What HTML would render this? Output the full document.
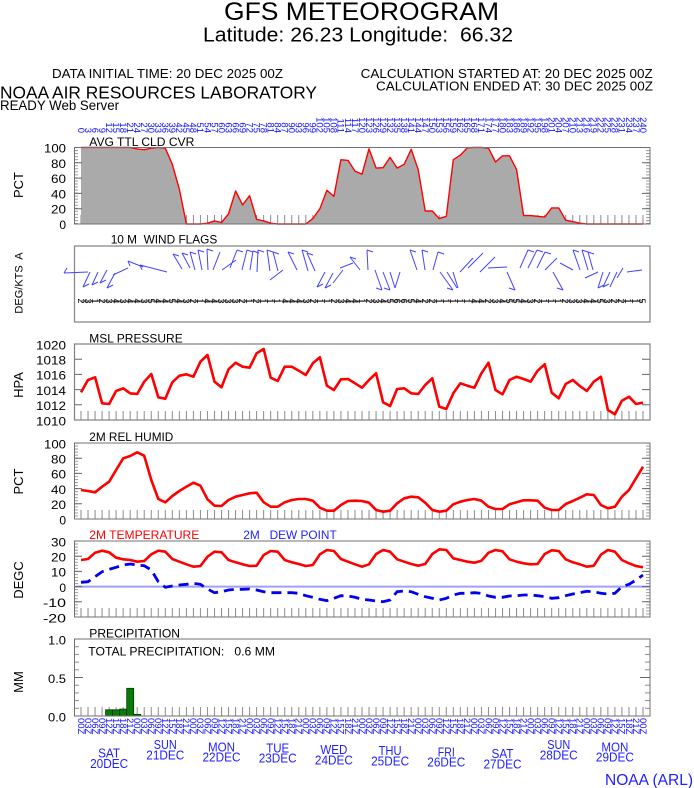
<!DOCTYPE html>
<html><head><meta charset="utf-8">
<style>html,body{margin:0;padding:0;background:#fff;}svg{display:block}</style>
</head><body>
<svg xmlns="http://www.w3.org/2000/svg" width="694" height="788" viewBox="0 0 694 788" font-family="'Liberation Sans', Arial, sans-serif">
<defs>
 <pattern id="vt" x="80.5" y="0" width="7.025" height="20" patternUnits="userSpaceOnUse"><rect x="0" y="0" width="1" height="20" fill="#8a8a8a"/></pattern>
 <pattern id="h3" x="0" y="-0.5" width="20" height="3.04" patternUnits="userSpaceOnUse"><rect width="20" height="1" fill="#9a9a9a"/></pattern>
 <pattern id="h77" x="0" y="-0.5" width="20" height="7.7" patternUnits="userSpaceOnUse"><rect width="20" height="1" fill="#8a8a8a"/></pattern>
</defs>
<rect width="694" height="788" fill="#fff"/>

<!-- Header -->
<text x="224" y="20" font-size="25" textLength="275" lengthAdjust="spacingAndGlyphs">GFS METEOROGRAM</text>
<text x="203" y="41.7" font-size="20" textLength="310" lengthAdjust="spacingAndGlyphs" style="white-space:pre">Latitude: 26.23 Longitude:  66.32</text>
<text x="52" y="78" font-size="13" textLength="231" lengthAdjust="spacingAndGlyphs">DATA INITIAL TIME: 20 DEC 2025 00Z</text>
<text x="360.7" y="78" font-size="13" textLength="292" lengthAdjust="spacingAndGlyphs">CALCULATION STARTED AT: 20 DEC 2025 00Z</text>
<text x="376" y="90.5" font-size="13" textLength="277" lengthAdjust="spacingAndGlyphs">CALCULATION ENDED AT: 30 DEC 2025 00Z</text>
<text x="0" y="98.3" font-size="17.5" textLength="317" lengthAdjust="spacingAndGlyphs">NOAA AIR RESOURCES LABORATORY</text>
<text x="0" y="110" font-size="13.5" textLength="119" lengthAdjust="spacingAndGlyphs">READY Web Server</text>

<!-- Top hour labels -->
<g transform="rotate(90)" font-size="9.5" fill="#1010ff" text-anchor="end">
<text x="133" y="-77.8">0</text><text x="133" y="-84.8">3</text><text x="133" y="-91.9">6</text><text x="133" y="-98.9">9</text><text x="133" y="-105.9">12</text><text x="133" y="-112.9">15</text><text x="133" y="-120.0">18</text><text x="133" y="-127.0">21</text><text x="133" y="-134.0">24</text><text x="133" y="-141.0">27</text><text x="133" y="-148.1">30</text><text x="133" y="-155.1">33</text><text x="133" y="-162.1">36</text><text x="133" y="-169.1">39</text><text x="133" y="-176.2">42</text><text x="133" y="-183.2">45</text><text x="133" y="-190.2">48</text><text x="133" y="-197.2">51</text><text x="133" y="-204.3">54</text><text x="133" y="-211.3">57</text><text x="133" y="-218.3">60</text><text x="133" y="-225.3">63</text><text x="133" y="-232.4">66</text><text x="133" y="-239.4">69</text><text x="133" y="-246.4">72</text><text x="133" y="-253.4">75</text><text x="133" y="-260.5">78</text><text x="133" y="-267.5">81</text><text x="133" y="-274.5">84</text><text x="133" y="-281.5">87</text><text x="133" y="-288.6">90</text><text x="133" y="-295.6">93</text><text x="133" y="-302.6">96</text><text x="133" y="-309.6">99</text><text x="133" y="-316.7">102</text><text x="133" y="-323.7">105</text><text x="133" y="-330.7">108</text><text x="133" y="-337.7">111</text><text x="133" y="-344.8">114</text><text x="133" y="-351.8">117</text><text x="133" y="-358.8">120</text><text x="133" y="-365.8">123</text><text x="133" y="-372.9">126</text><text x="133" y="-379.9">129</text><text x="133" y="-386.9">132</text><text x="133" y="-393.9">135</text><text x="133" y="-401.0">138</text><text x="133" y="-408.0">141</text><text x="133" y="-415.0">144</text><text x="133" y="-422.0">147</text><text x="133" y="-429.1">150</text><text x="133" y="-436.1">153</text><text x="133" y="-443.1">156</text><text x="133" y="-450.1">159</text><text x="133" y="-457.2">162</text><text x="133" y="-464.2">165</text><text x="133" y="-471.2">168</text><text x="133" y="-478.2">171</text><text x="133" y="-485.3">174</text><text x="133" y="-492.3">177</text><text x="133" y="-499.3">180</text><text x="133" y="-506.3">183</text><text x="133" y="-513.4">186</text><text x="133" y="-520.4">189</text><text x="133" y="-527.4">192</text><text x="133" y="-534.4">195</text><text x="133" y="-541.5">198</text><text x="133" y="-548.5">201</text><text x="133" y="-555.5">204</text><text x="133" y="-562.5">207</text><text x="133" y="-569.6">210</text><text x="133" y="-576.6">213</text><text x="133" y="-583.6">216</text><text x="133" y="-590.6">219</text><text x="133" y="-597.7">222</text><text x="133" y="-604.7">225</text><text x="133" y="-611.7">228</text><text x="133" y="-618.7">231</text><text x="133" y="-625.8">234</text><text x="133" y="-632.8">237</text><text x="133" y="-639.8">240</text>
</g>

<!-- ============ CLOUD PANEL ============ -->
<text x="89.3" y="146" font-size="12" textLength="105" lengthAdjust="spacingAndGlyphs">AVG TTL CLD CVR</text>
<rect x="80.5" y="215" width="563.5" height="9" fill="url(#vt)"/>
<g transform="translate(0,147.5)">
 <rect x="74" y="0" width="4" height="76.5" fill="url(#h3)"/>
 <rect x="646" y="0" width="4" height="76.5" fill="url(#h3)"/>
</g>
<polygon fill="#aaaaaa" points="81,224 81.0,147.4 88.0,147.4 95.1,147.4 102.1,147.4 109.1,147.4 116.1,147.4 123.2,147.4 130.2,147.4 137.2,148.9 144.2,149.7 151.3,148.2 158.3,147.4 165.3,148.2 172.3,164.3 179.4,189.5 186.4,224 193.4,224 200.4,224 207.5,223.2 214.5,220.9 221.5,222.5 228.5,214 235.6,191 242.6,204.9 249.6,195.7 256.6,219.4 263.7,220.9 270.7,223.2 277.7,224 284.7,224 291.8,224 298.8,224 305.8,224 312.8,218.6 319.9,208.7 326.9,190.3 333.9,196.4 340.9,159.7 348.0,160.4 355.0,171.1 362.0,174.2 369.0,148.9 376.1,168.1 383.1,167.7 390.1,157.4 397.1,168.1 404.2,164.3 411.2,149.3 418.2,169.6 425.2,211 432.3,211 439.3,218.6 446.3,216.3 453.3,159.7 460.4,155.1 467.4,147.7 474.4,147.4 481.4,147.4 488.5,148.2 495.5,162 502.5,155.8 509.5,155.8 516.6,169.6 523.6,215.6 530.6,215.6 537.6,216.3 544.7,217.1 551.7,207.9 558.7,207.9 565.7,220.2 572.8,221.7 579.8,223.2 586.8,224 593.8,224 600.9,224 607.9,224 614.9,224 621.9,224 629.0,224 636.0,224 643.0,224"/>
<polyline fill="none" stroke="#ff0000" stroke-width="1.4" stroke-linejoin="round" points="81.0,147.4 88.0,147.4 95.1,147.4 102.1,147.4 109.1,147.4 116.1,147.4 123.2,147.4 130.2,147.4 137.2,148.9 144.2,149.7 151.3,148.2 158.3,147.4 165.3,148.2 172.3,164.3 179.4,189.5 186.4,224 193.4,224 200.4,224 207.5,223.2 214.5,220.9 221.5,222.5 228.5,214 235.6,191 242.6,204.9 249.6,195.7 256.6,219.4 263.7,220.9 270.7,223.2 277.7,224 284.7,224 291.8,224 298.8,224 305.8,224 312.8,218.6 319.9,208.7 326.9,190.3 333.9,196.4 340.9,159.7 348.0,160.4 355.0,171.1 362.0,174.2 369.0,148.9 376.1,168.1 383.1,167.7 390.1,157.4 397.1,168.1 404.2,164.3 411.2,149.3 418.2,169.6 425.2,211 432.3,211 439.3,218.6 446.3,216.3 453.3,159.7 460.4,155.1 467.4,147.7 474.4,147.4 481.4,147.4 488.5,148.2 495.5,162 502.5,155.8 509.5,155.8 516.6,169.6 523.6,215.6 530.6,215.6 537.6,216.3 544.7,217.1 551.7,207.9 558.7,207.9 565.7,220.2 572.8,221.7 579.8,223.2 586.8,224 593.8,224 600.9,224 607.9,224 614.9,224 621.9,224 629.0,224 636.0,224 643.0,224"/>
<path stroke="#666" stroke-width="1" d="M74 147.5h8M74 162.8h8M74 178.1h8M74 193.4h8M74 208.7h8M642 147.5h8M642 162.8h8M642 178.1h8M642 193.4h8M642 208.7h8"/>
<rect x="74.5" y="147.5" width="575.5" height="76.5" fill="none" stroke="#707070" stroke-width="1"/>
<g font-size="12" text-anchor="end">
<text x="66" y="152.5" textLength="22" lengthAdjust="spacingAndGlyphs">100</text>
<text x="66" y="167.8" textLength="15" lengthAdjust="spacingAndGlyphs">80</text>
<text x="66" y="183.1" textLength="15" lengthAdjust="spacingAndGlyphs">60</text>
<text x="66" y="198.4" textLength="15" lengthAdjust="spacingAndGlyphs">40</text>
<text x="66" y="213.7" textLength="15" lengthAdjust="spacingAndGlyphs">20</text>
<text x="66" y="229">0</text>
</g>
<text transform="translate(23,185) rotate(-90)" font-size="13" text-anchor="middle">PCT</text>

<!-- ============ WIND PANEL ============ -->
<text x="110.7" y="243.3" font-size="12" textLength="106.6" lengthAdjust="spacingAndGlyphs" style="white-space:pre">10 M  WIND FLAGS</text>
<rect x="74.5" y="246" width="575.5" height="76" fill="none" stroke="#8a8a8a" stroke-width="1.3"/>
<text transform="translate(22.5,283) rotate(-90)" font-size="11" text-anchor="middle" style="white-space:pre">DEG/KTS  A</text>
<path fill="none" stroke="#4444ff" stroke-width="1" d="M88 272L64 273M90 272L83 287M98 272L92 285M107 270L100 283M115 273L107 288M128 268L113 275M143 267L128 261M167 272L140 265M182 269L173 254M190 268L182 253M195 270L190 252M202 270L198 250M208 270L207 249M213 270L220 252M222 270L236 260M230 268L237 250M242 270L247 250M250 270L253 251M257 272L258 250M270 271L267 250M278 271L273 252M270 280L283 270M297 270L288 252M308 271L302 250M315 271L307 253M325 272L317 287M333 273L325 288M343 270L333 283M353 263L340 268M360 270L350 257M368 270L367 250M375 270L382 290M383 272L390 290M390 272L395 288M400 272L395 288M417 270L410 250M425 270L422 250M433 270L438 252M440 272L453 290M447 272L457 288M453 272L458 288M460 272L473 258M468 268L483 253M480 272L495 257M488 268L507 267M507 272L515 290M520 268L528 250M528 268L537 250M537 268L545 252M545 270L557 258M553 272L563 290M560 263L573 270M580 270L573 250M588 270L582 250M593 270L588 252M585 278L598 272M603 272L598 288M610 272L603 287M617 272L610 287M623 268L617 278M627 272L642 270"/>
<path fill="none" stroke="#4444ff" stroke-width="1" d="M173 254l6 2M182 253l6 2M190 252l6 2M198 250l6 2M207 249l6 2M237 250l6 2M247 250l6 2M253 251l6 2M258 250l6 2M267 250l6 2M273 252l6 2M288 252l6 2M302 250l6 2M307 253l6 2M350 257l6 2M367 250l6 2M410 250l6 2M422 250l6 2M438 252l6 2M528 250l6 2M537 250l6 2M545 252l6 2M573 250l6 2M582 250l6 2M588 252l6 2M83 287l6 -3M92 285l6 -3M100 283l6 -3M107 288l6 -3M317 287l6 -3M325 288l6 -3M382 290l-6 -2M390 290l-6 -2M453 290l-6 -2M515 290l-6 -2M563 290l-6 -2M598 288l6 -3M603 287l6 -3M64 273l3 -5M128 261l2 5M140 265l2 5"/>
<line x1="81" y1="301" x2="643" y2="301" stroke="#000" stroke-width="0.7"/>
<g transform="rotate(90)" font-size="9" fill="#000" text-anchor="middle">
<text x="301" y="-78">2</text><text x="301" y="-85">3</text><text x="301" y="-92">1</text><text x="301" y="-99">2</text><text x="301" y="-106">3</text><text x="301" y="-113">4</text><text x="301" y="-120">3</text><text x="301" y="-127">4</text><text x="301" y="-134">4</text><text x="301" y="-141">3</text><text x="301" y="-148">5</text><text x="301" y="-155">4</text><text x="301" y="-162">4</text><text x="301" y="-169">5</text><text x="301" y="-176">4</text><text x="301" y="-183">3</text><text x="301" y="-190">2</text><text x="301" y="-197">1</text><text x="301" y="-204">4</text><text x="301" y="-211">4</text><text x="301" y="-218">3</text><text x="301" y="-225">3</text><text x="301" y="-232">3</text><text x="301" y="-239">2</text><text x="301" y="-246">1</text><text x="301" y="-253">2</text><text x="301" y="-260">1</text><text x="301" y="-267">1</text><text x="301" y="-274">1</text><text x="301" y="-282">4</text><text x="301" y="-289">4</text><text x="301" y="-296">4</text><text x="301" y="-303">3</text><text x="301" y="-310">2</text><text x="301" y="-317">1</text><text x="301" y="-324">1</text><text x="301" y="-331">2</text><text x="301" y="-338">3</text><text x="301" y="-345">4</text><text x="301" y="-352">4</text><text x="301" y="-359">1</text><text x="301" y="-366">2</text><text x="301" y="-373">3</text><text x="301" y="-380">4</text><text x="301" y="-387">5</text><text x="301" y="-394">6</text><text x="301" y="-401">6</text><text x="301" y="-408">5</text><text x="301" y="-415">4</text><text x="301" y="-422">2</text><text x="301" y="-429">2</text><text x="301" y="-436">1</text><text x="301" y="-443">1</text><text x="301" y="-450">1</text><text x="301" y="-457">1</text><text x="301" y="-464">1</text><text x="301" y="-471">4</text><text x="301" y="-478">4</text><text x="301" y="-485">2</text><text x="301" y="-492">3</text><text x="301" y="-499">4</text><text x="301" y="-506">5</text><text x="301" y="-513">5</text><text x="301" y="-520">4</text><text x="301" y="-527">3</text><text x="301" y="-534">2</text><text x="301" y="-541">1</text><text x="301" y="-548">1</text><text x="301" y="-555">1</text><text x="301" y="-562">2</text><text x="301" y="-569">3</text><text x="301" y="-576">3</text><text x="301" y="-583">4</text><text x="301" y="-590">4</text><text x="301" y="-597">5</text><text x="301" y="-604">3</text><text x="301" y="-611">2</text><text x="301" y="-618">2</text><text x="301" y="-625">1</text><text x="301" y="-632">1</text><text x="301" y="-639">5</text>
</g>

<!-- ============ PRESSURE PANEL ============ -->
<text x="89.3" y="342.3" font-size="12" textLength="93.4" lengthAdjust="spacingAndGlyphs">MSL PRESSURE</text>
<rect x="80.5" y="411" width="563.5" height="9" fill="url(#vt)"/>
<polyline fill="none" stroke="#ff0000" stroke-width="2.6" stroke-linejoin="round" points="81.0,392.3 88.0,380 95.1,377.3 102.1,403.3 109.1,404 116.1,391 123.2,388.3 130.2,393.3 137.2,394 144.2,381.7 151.3,374 158.3,397.3 165.3,398.7 172.3,382.3 179.4,375.7 186.4,374.3 193.4,376.7 200.4,361.7 207.5,355 214.5,381.7 221.5,387.3 228.5,369.3 235.6,362.7 242.6,366.7 249.6,367.7 256.6,353.3 263.7,349 270.7,377.7 277.7,381 284.7,366.7 291.8,366.7 298.8,370.7 305.8,375 312.8,363.3 319.9,357.3 326.9,385.7 333.9,390 340.9,379.3 348.0,379 355.0,383.3 362.0,387.7 369.0,380 376.1,373.3 383.1,402.3 390.1,406 397.1,389 404.2,388.3 411.2,393.3 418.2,394 425.2,385 432.3,378.3 439.3,406.7 446.3,409 453.3,393.3 460.4,383.3 467.4,385.7 474.4,387.7 481.4,373.3 488.5,362.7 495.5,390 502.5,394.3 509.5,380 516.6,376.7 523.6,379 530.6,381.7 537.6,370.7 544.7,364.3 551.7,392.7 558.7,398.3 565.7,384 572.8,380 579.8,386 586.8,391 593.8,381.7 600.9,376.7 607.9,410 614.9,414.3 621.9,400.7 629.0,396.7 636.0,404 643.0,402.7"/>
<path stroke="#666" stroke-width="1" d="M74 344h8M74 359.2h8M74 374.4h8M74 389.6h8M74 404.8h8M642 344h8M642 359.2h8M642 374.4h8M642 389.6h8M642 404.8h8"/>
<rect x="74.5" y="344" width="575.5" height="76" fill="none" stroke="#808080" stroke-width="1.2"/>
<g font-size="12" text-anchor="end">
<text x="66" y="349.3" textLength="30" lengthAdjust="spacingAndGlyphs">1020</text>
<text x="66" y="364.5" textLength="30" lengthAdjust="spacingAndGlyphs">1018</text>
<text x="66" y="379.7" textLength="30" lengthAdjust="spacingAndGlyphs">1016</text>
<text x="66" y="394.9" textLength="30" lengthAdjust="spacingAndGlyphs">1014</text>
<text x="66" y="410.1" textLength="30" lengthAdjust="spacingAndGlyphs">1012</text>
<text x="66" y="425.3" textLength="30" lengthAdjust="spacingAndGlyphs">1010</text>
</g>
<text transform="translate(23,385) rotate(-90)" font-size="13" text-anchor="middle">HPA</text>

<!-- ============ HUMIDITY PANEL ============ -->
<text x="89.3" y="441" font-size="12" textLength="84" lengthAdjust="spacingAndGlyphs">2M REL HUMID</text>
<rect x="80.5" y="510" width="563.5" height="9" fill="url(#vt)"/>
<g transform="translate(0,443)">
 <rect x="74" y="0" width="4" height="76" fill="url(#h3)"/>
 <rect x="646" y="0" width="4" height="76" fill="url(#h3)"/>
</g>
<polyline fill="none" stroke="#ff0000" stroke-width="2.6" stroke-linejoin="round" points="81.0,490 88.0,491 95.1,492.3 102.1,486.7 109.1,481.7 116.1,470 123.2,458.3 130.2,456 137.2,452.3 144.2,455.7 151.3,480 158.3,499 165.3,502.3 172.3,496 179.4,491 186.4,486.7 193.4,482.7 200.4,485.7 207.5,499.3 214.5,505.7 221.5,506 228.5,500 235.6,496.7 242.6,495 249.6,493.3 256.6,492.7 263.7,502.3 270.7,506.7 277.7,506.7 284.7,502.3 291.8,500 298.8,499 305.8,499 312.8,500.7 319.9,507.7 326.9,510.7 333.9,510.7 340.9,505 348.0,501 355.0,500.7 362.0,501 369.0,502.7 376.1,510 383.1,511.7 390.1,510.7 397.1,503.3 404.2,498.3 411.2,496.7 418.2,497.3 425.2,502.7 432.3,510 439.3,511.7 446.3,510.7 453.3,504.3 460.4,501.7 467.4,500 474.4,499 481.4,500.7 488.5,506.7 495.5,509 502.5,509 509.5,504.3 516.6,502.3 523.6,500.3 530.6,500.3 537.6,500.7 544.7,507.7 551.7,510 558.7,510 565.7,504 572.8,501 579.8,497.7 586.8,494.3 593.8,495 600.9,505 607.9,508.3 614.9,506.7 621.9,496.7 629.0,490 636.0,478.3 643.0,466.7"/>
<path stroke="#666" stroke-width="1" d="M74 443h8M74 458.2h8M74 473.4h8M74 488.6h8M74 503.8h8M642 443h8M642 458.2h8M642 473.4h8M642 488.6h8M642 503.8h8"/>
<rect x="74.5" y="443" width="575.5" height="76" fill="none" stroke="#707070" stroke-width="1"/>
<g font-size="12" text-anchor="end">
<text x="66" y="448.3" textLength="22" lengthAdjust="spacingAndGlyphs">100</text>
<text x="66" y="463.5" textLength="15" lengthAdjust="spacingAndGlyphs">80</text>
<text x="66" y="478.7" textLength="15" lengthAdjust="spacingAndGlyphs">60</text>
<text x="66" y="493.9" textLength="15" lengthAdjust="spacingAndGlyphs">40</text>
<text x="66" y="509.1" textLength="15" lengthAdjust="spacingAndGlyphs">20</text>
<text x="66" y="524.3">0</text>
</g>
<text transform="translate(23,481.5) rotate(-90)" font-size="13" text-anchor="middle">PCT</text>

<!-- ============ TEMPERATURE PANEL ============ -->
<text x="89.3" y="539" font-size="12" fill="#ff0000" textLength="110" lengthAdjust="spacingAndGlyphs">2M TEMPERATURE</text>
<text x="243.3" y="539" font-size="12" fill="#1f1fff" textLength="93.4" lengthAdjust="spacingAndGlyphs" style="white-space:pre">2M   DEW POINT</text>
<rect x="80.5" y="608" width="563.5" height="9" fill="url(#vt)"/>
<g transform="translate(0,541)">
 <rect x="74" y="0" width="4" height="76" fill="url(#h3)"/>
 <rect x="646" y="0" width="4" height="76" fill="url(#h3)"/>
</g>
<line x1="74" y1="586.6" x2="650" y2="586.6" stroke="#9f9fff" stroke-width="2"/>
<polyline fill="none" stroke="#ff0000" stroke-width="2.6" stroke-linejoin="round" points="81.0,560 88.0,559 95.1,552.7 102.1,550.7 109.1,552.3 116.1,557.7 123.2,559.3 130.2,560 137.2,561.7 144.2,561 151.3,554.3 158.3,550.7 165.3,551.7 172.3,559 179.4,561.7 186.4,564.3 193.4,566.7 200.4,566 207.5,556.7 214.5,551.7 221.5,552.3 228.5,560 235.6,562.3 242.6,564.3 249.6,566 256.6,565.7 263.7,555 270.7,551 277.7,551.7 284.7,560 291.8,562.3 298.8,564 305.8,566 312.8,565 319.9,554.3 326.9,550 333.9,551 340.9,559 348.0,561.7 355.0,564.3 362.0,566.7 369.0,564.3 376.1,554 383.1,550 390.1,551.7 397.1,559.3 404.2,561.7 411.2,564 418.2,565.7 425.2,564 432.3,554 439.3,549.3 446.3,550 453.3,558.3 460.4,560 467.4,561.7 474.4,562.7 481.4,560.7 488.5,552.7 495.5,550 502.5,551.3 509.5,559.3 516.6,561.7 523.6,563.3 530.6,564.3 537.6,564 544.7,554 551.7,550.3 558.7,551 565.7,559.3 572.8,562.3 579.8,564.3 586.8,566.7 593.8,565.7 600.9,554.7 607.9,550 614.9,551.7 621.9,560 629.0,563.3 636.0,566 643.0,567.3"/>
<polyline fill="none" stroke="#0000ee" stroke-width="2.8" stroke-dasharray="10,6" points="81.0,582.3 88.0,581.7 95.1,576.7 102.1,571.7 109.1,569.3 116.1,567.3 123.2,565 130.2,564 137.2,565 144.2,565.7 151.3,570 158.3,581.7 165.3,587.3 172.3,586 179.4,585 186.4,584.3 193.4,583.3 200.4,584.3 207.5,589 214.5,592.7 221.5,591.7 228.5,590 235.6,589.3 242.6,589.3 249.6,589 256.6,590 263.7,591.7 270.7,592.7 277.7,592.7 284.7,592.7 291.8,592.7 298.8,593.3 305.8,595.7 312.8,597.3 319.9,599.3 326.9,600.7 333.9,598.3 340.9,595.7 348.0,596 355.0,597.3 362.0,599.3 369.0,600 376.1,601 383.1,601.7 390.1,600 397.1,591.7 404.2,591 411.2,591.7 418.2,594.3 425.2,596.7 432.3,598.3 439.3,600 446.3,598.3 453.3,595 460.4,593.3 467.4,593.3 474.4,592.7 481.4,593.3 488.5,596 495.5,597.3 502.5,597.3 509.5,596 516.6,595.7 523.6,595 530.6,595 537.6,595.7 544.7,596.7 551.7,598.3 558.7,597.7 565.7,595.7 572.8,594 579.8,592.7 586.8,591.3 593.8,591.7 600.9,593.3 607.9,594 614.9,593.3 621.9,586.7 629.0,584.3 636.0,580 643.0,575"/>
<path stroke="#666" stroke-width="1" d="M74 541h8M74 556.2h8M74 571.4h8M74 586.6h8M74 601.8h8M642 541h8M642 556.2h8M642 571.4h8M642 586.6h8M642 601.8h8"/>
<rect x="74.5" y="541" width="575.5" height="76" fill="none" stroke="#707070" stroke-width="1"/>
<g font-size="12" text-anchor="end">
<text x="66" y="546.3" textLength="15" lengthAdjust="spacingAndGlyphs">30</text>
<text x="66" y="561.5" textLength="15" lengthAdjust="spacingAndGlyphs">20</text>
<text x="66" y="576.7" textLength="15" lengthAdjust="spacingAndGlyphs">10</text>
<text x="66" y="591.9">0</text>
<text x="66" y="607.1" textLength="23" lengthAdjust="spacingAndGlyphs">-10</text>
<text x="66" y="622.3" textLength="23" lengthAdjust="spacingAndGlyphs">-20</text>
</g>
<text transform="translate(23,580) rotate(-90)" font-size="13" text-anchor="middle">DEGC</text>

<!-- ============ PRECIP PANEL ============ -->
<text x="89.3" y="637.3" font-size="12" textLength="90.7" lengthAdjust="spacingAndGlyphs">PRECIPITATION</text>
<text x="88.3" y="655.7" font-size="12" textLength="186.7" lengthAdjust="spacingAndGlyphs" style="white-space:pre">TOTAL PRECIPITATION:   0.6 MM</text>
<rect x="80.5" y="707" width="563.5" height="9" fill="url(#vt)"/>
<g transform="translate(0,639)">
 <rect x="74" y="0" width="5" height="77" fill="url(#h77)"/>
 <rect x="645" y="0" width="5" height="77" fill="url(#h77)"/>
</g>
<g fill="#0b7a0b" stroke="#003800" stroke-width="0.8">
 <rect x="105.6" y="709.8" width="7" height="6.2"/>
 <rect x="112.6" y="709.8" width="7" height="6.2"/>
 <rect x="119.6" y="709.1" width="7" height="6.9"/>
 <rect x="126.7" y="688.3" width="7" height="27.7"/>
 <rect x="133.7" y="714.4" width="7" height="1.6"/>
</g>
<path stroke="#666" stroke-width="1" d="M74 639h9M74 677.5h9M642 639h8M640 677.5h10"/>
<rect x="74.5" y="639" width="575.5" height="77" fill="none" stroke="#707070" stroke-width="1"/>
<g font-size="12" text-anchor="end">
<text x="66" y="644.3" textLength="18" lengthAdjust="spacingAndGlyphs">1.0</text>
<text x="66" y="682.8" textLength="18" lengthAdjust="spacingAndGlyphs">0.5</text>
<text x="66" y="721.3" textLength="18" lengthAdjust="spacingAndGlyphs">0.0</text>
</g>
<text transform="translate(23,682) rotate(-90)" font-size="13" text-anchor="middle">MM</text>

<!-- Bottom hour labels -->
<g transform="rotate(90)" font-size="9.5" fill="#1010ff" text-anchor="start">
<text x="718" y="-77.8">00Z</text><text x="718" y="-84.8">03Z</text><text x="718" y="-91.9">06Z</text><text x="718" y="-98.9">09Z</text><text x="718" y="-105.9">12Z</text><text x="718" y="-112.9">15Z</text><text x="718" y="-120.0">18Z</text><text x="718" y="-127.0">21Z</text><text x="718" y="-134.0">00Z</text><text x="718" y="-141.0">03Z</text><text x="718" y="-148.1">06Z</text><text x="718" y="-155.1">09Z</text><text x="718" y="-162.1">12Z</text><text x="718" y="-169.1">15Z</text><text x="718" y="-176.2">18Z</text><text x="718" y="-183.2">21Z</text><text x="718" y="-190.2">00Z</text><text x="718" y="-197.2">03Z</text><text x="718" y="-204.3">06Z</text><text x="718" y="-211.3">09Z</text><text x="718" y="-218.3">12Z</text><text x="718" y="-225.3">15Z</text><text x="718" y="-232.4">18Z</text><text x="718" y="-239.4">21Z</text><text x="718" y="-246.4">00Z</text><text x="718" y="-253.4">03Z</text><text x="718" y="-260.5">06Z</text><text x="718" y="-267.5">09Z</text><text x="718" y="-274.5">12Z</text><text x="718" y="-281.5">15Z</text><text x="718" y="-288.6">18Z</text><text x="718" y="-295.6">21Z</text><text x="718" y="-302.6">00Z</text><text x="718" y="-309.6">03Z</text><text x="718" y="-316.7">06Z</text><text x="718" y="-323.7">09Z</text><text x="718" y="-330.7">12Z</text><text x="718" y="-337.7">15Z</text><text x="718" y="-344.8">18Z</text><text x="718" y="-351.8">21Z</text><text x="718" y="-358.8">00Z</text><text x="718" y="-365.8">03Z</text><text x="718" y="-372.9">06Z</text><text x="718" y="-379.9">09Z</text><text x="718" y="-386.9">12Z</text><text x="718" y="-393.9">15Z</text><text x="718" y="-401.0">18Z</text><text x="718" y="-408.0">21Z</text><text x="718" y="-415.0">00Z</text><text x="718" y="-422.0">03Z</text><text x="718" y="-429.1">06Z</text><text x="718" y="-436.1">09Z</text><text x="718" y="-443.1">12Z</text><text x="718" y="-450.1">15Z</text><text x="718" y="-457.2">18Z</text><text x="718" y="-464.2">21Z</text><text x="718" y="-471.2">00Z</text><text x="718" y="-478.2">03Z</text><text x="718" y="-485.3">06Z</text><text x="718" y="-492.3">09Z</text><text x="718" y="-499.3">12Z</text><text x="718" y="-506.3">15Z</text><text x="718" y="-513.4">18Z</text><text x="718" y="-520.4">21Z</text><text x="718" y="-527.4">00Z</text><text x="718" y="-534.4">03Z</text><text x="718" y="-541.5">06Z</text><text x="718" y="-548.5">09Z</text><text x="718" y="-555.5">12Z</text><text x="718" y="-562.5">15Z</text><text x="718" y="-569.6">18Z</text><text x="718" y="-576.6">21Z</text><text x="718" y="-583.6">00Z</text><text x="718" y="-590.6">03Z</text><text x="718" y="-597.7">06Z</text><text x="718" y="-604.7">09Z</text><text x="718" y="-611.7">12Z</text><text x="718" y="-618.7">15Z</text><text x="718" y="-625.8">18Z</text><text x="718" y="-632.8">21Z</text><text x="718" y="-639.8">00Z</text>
</g>

<!-- Day labels -->
<g font-size="12.5" fill="#1f1fff" text-anchor="middle">
<text x="109.1" y="757.5" textLength="22" lengthAdjust="spacingAndGlyphs">SAT</text><text x="109.1" y="768" textLength="38" lengthAdjust="spacingAndGlyphs">20DEC</text>
<text x="165.3" y="749" textLength="23" lengthAdjust="spacingAndGlyphs">SUN</text><text x="165.3" y="759.5" textLength="38" lengthAdjust="spacingAndGlyphs">21DEC</text>
<text x="221.5" y="751.5" textLength="27" lengthAdjust="spacingAndGlyphs">MON</text><text x="221.5" y="761.5" textLength="38" lengthAdjust="spacingAndGlyphs">22DEC</text>
<text x="277.7" y="752.5" textLength="23" lengthAdjust="spacingAndGlyphs">TUE</text><text x="277.7" y="762.5" textLength="38" lengthAdjust="spacingAndGlyphs">23DEC</text>
<text x="333.9" y="754" textLength="27" lengthAdjust="spacingAndGlyphs">WED</text><text x="333.9" y="764.5" textLength="38" lengthAdjust="spacingAndGlyphs">24DEC</text>
<text x="390.1" y="755" textLength="23" lengthAdjust="spacingAndGlyphs">THU</text><text x="390.1" y="765.5" textLength="38" lengthAdjust="spacingAndGlyphs">25DEC</text>
<text x="446.3" y="756.5" textLength="17" lengthAdjust="spacingAndGlyphs">FRI</text><text x="446.3" y="766.5" textLength="38" lengthAdjust="spacingAndGlyphs">26DEC</text>
<text x="502.5" y="758" textLength="22" lengthAdjust="spacingAndGlyphs">SAT</text><text x="502.5" y="768.5" textLength="38" lengthAdjust="spacingAndGlyphs">27DEC</text>
<text x="558.7" y="749" textLength="23" lengthAdjust="spacingAndGlyphs">SUN</text><text x="558.7" y="759.5" textLength="38" lengthAdjust="spacingAndGlyphs">28DEC</text>
<text x="614.9" y="751.5" textLength="27" lengthAdjust="spacingAndGlyphs">MON</text><text x="614.9" y="761.5" textLength="38" lengthAdjust="spacingAndGlyphs">29DEC</text>
</g>
<text x="605" y="785" font-size="16" fill="#1f1fff" textLength="88" lengthAdjust="spacingAndGlyphs">NOAA (ARL)</text>
</svg>
</body></html>
